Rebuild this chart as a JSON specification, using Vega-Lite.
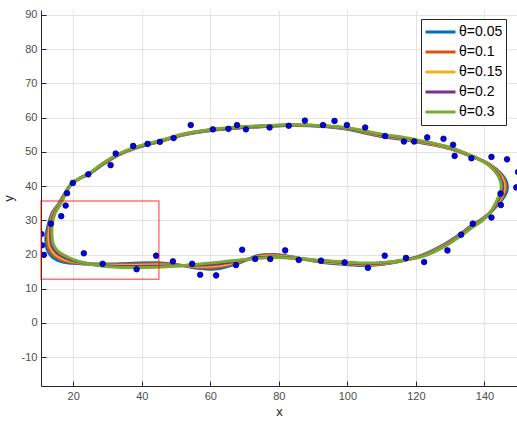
{
  "$schema": "https://vega.github.io/schema/vega-lite/v6.json",
  "width": 476,
  "height": 376,
  "autosize": {"type": "none"},
  "padding": {"left": 41, "top": 10, "right": 0, "bottom": 36},
  "background": "white",
  "config": {
    "view": {"stroke": null},
    "font": "Liberation Sans",
    "axis": {
      "domainColor": "#262626",
      "domainWidth": 1,
      "tickColor": "#262626",
      "tickSize": -5,
      "labelPadding": 9,
      "labelColor": "#4d4d4d",
      "labelFontSize": 11,
      "labelOverlap": false,
      "gridColor": "#e3e3e3",
      "gridWidth": 1,
      "titleColor": "#262626",
      "titleFontSize": 13,
      "titleFontWeight": "normal"
    }
  },
  "datasets": {
    "pts": [
      {"x":10.7,"y":26.0},{"x":10.9,"y":22.7},{"x":11.45,"y":19.9},{"x":13.5,"y":29.0},{"x":16.5,"y":31.2},{"x":17.8,"y":34.3},{"x":18.2,"y":37.9},{"x":19.9,"y":40.9},{"x":24.4,"y":43.4},{"x":30.9,"y":46.1},{"x":32.4,"y":49.5},{"x":37.5,"y":51.7},{"x":41.7,"y":52.3},{"x":45.3,"y":52.9},{"x":49.3,"y":54.0},{"x":54.3,"y":57.8},{"x":60.75,"y":56.55},{"x":65.3,"y":56.7},{"x":67.8,"y":57.8},{"x":70.4,"y":56.55},{"x":77.3,"y":57.1},{"x":82.9,"y":57.6},{"x":87.6,"y":59.1},{"x":92.9,"y":57.8},{"x":96.25,"y":59.0},{"x":99.85,"y":57.8},{"x":105.2,"y":57.1},{"x":111.0,"y":54.6},{"x":116.5,"y":53.0},{"x":119.5,"y":53.0},{"x":123.3,"y":54.2},{"x":128.05,"y":53.8},{"x":130.85,"y":52.05},{"x":131.3,"y":48.8},{"x":136.2,"y":48.1},{"x":142.05,"y":48.5},{"x":146.6,"y":47.8},{"x":149.8,"y":44.1},{"x":149.3,"y":39.6},{"x":144.7,"y":37.8},{"x":144.8,"y":34.45},{"x":142.05,"y":30.8},{"x":136.6,"y":29.0},{"x":133.2,"y":25.8},{"x":129.2,"y":21.2},{"x":122.4,"y":17.8},{"x":117.1,"y":19.0},{"x":110.9,"y":19.65},{"x":106.0,"y":16.1},{"x":99.2,"y":17.7},{"x":92.3,"y":18.2},{"x":85.8,"y":18.4},{"x":81.85,"y":21.2},{"x":77.5,"y":18.7},{"x":73.1,"y":18.7},{"x":69.3,"y":21.4},{"x":67.5,"y":16.9},{"x":61.7,"y":13.9},{"x":57.05,"y":14.1},{"x":54.7,"y":17.3},{"x":49.1,"y":18.0},{"x":44.2,"y":19.65},{"x":38.5,"y":15.7},{"x":28.6,"y":17.3},{"x":23.1,"y":20.35}
    ],
    "box": [{"x":10.6,"x2":45.0,"y":12.8,"y2":35.6}],
    "curves": [
      {"s":"θ=0.05","i":0,"x":12.0,"y":25.5},{"s":"θ=0.05","i":1,"x":12.8,"y":29.0},{"s":"θ=0.05","i":2,"x":14.0,"y":32.4},{"s":"θ=0.05","i":3,"x":15.6,"y":34.6},{"s":"θ=0.05","i":4,"x":17.5,"y":37.8},{"s":"θ=0.05","i":5,"x":19.5,"y":40.7},{"s":"θ=0.05","i":6,"x":21.9,"y":42.2},{"s":"θ=0.05","i":7,"x":24.6,"y":43.5},{"s":"θ=0.05","i":8,"x":29.3,"y":46.7},{"s":"θ=0.05","i":9,"x":33.6,"y":49.2},{"s":"θ=0.05","i":10,"x":38.1,"y":51.0},{"s":"θ=0.05","i":11,"x":45.4,"y":53.0},{"s":"θ=0.05","i":12,"x":53.2,"y":55.1},{"s":"θ=0.05","i":13,"x":60.9,"y":56.3},{"s":"θ=0.05","i":14,"x":68.0,"y":56.9},{"s":"θ=0.05","i":15,"x":75.0,"y":57.3},{"s":"θ=0.05","i":16,"x":83.6,"y":57.7},{"s":"θ=0.05","i":17,"x":93.3,"y":57.4},{"s":"θ=0.05","i":18,"x":100.1,"y":56.6},{"s":"θ=0.05","i":19,"x":105.5,"y":55.4},{"s":"θ=0.05","i":20,"x":110.8,"y":54.3},{"s":"θ=0.05","i":21,"x":115.5,"y":53.7},{"s":"θ=0.05","i":22,"x":120.6,"y":52.8},{"s":"θ=0.05","i":23,"x":126.0,"y":51.8},{"s":"θ=0.05","i":24,"x":130.3,"y":50.8},{"s":"θ=0.05","i":25,"x":134.8,"y":49.2},{"s":"θ=0.05","i":26,"x":138.5,"y":47.8},{"s":"θ=0.05","i":27,"x":141.5,"y":46.3},{"s":"θ=0.05","i":28,"x":144.6,"y":43.9},{"s":"θ=0.05","i":29,"x":146.4,"y":41.3},{"s":"θ=0.05","i":30,"x":146.6,"y":38.8},{"s":"θ=0.05","i":31,"x":145.3,"y":36.2},{"s":"θ=0.05","i":32,"x":142.5,"y":33.0},{"s":"θ=0.05","i":33,"x":139.5,"y":30.5},{"s":"θ=0.05","i":34,"x":136.0,"y":28.3},{"s":"θ=0.05","i":35,"x":132.8,"y":25.9},{"s":"θ=0.05","i":36,"x":128.0,"y":22.8},{"s":"θ=0.05","i":37,"x":122.3,"y":20.0},{"s":"θ=0.05","i":38,"x":116.7,"y":18.3},{"s":"θ=0.05","i":39,"x":110.8,"y":17.2},{"s":"θ=0.05","i":40,"x":106.0,"y":16.8},{"s":"θ=0.05","i":41,"x":99.2,"y":17.1},{"s":"θ=0.05","i":42,"x":92.3,"y":17.7},{"s":"θ=0.05","i":43,"x":85.6,"y":19.0},{"s":"θ=0.05","i":44,"x":79.0,"y":20.0},{"s":"θ=0.05","i":45,"x":74.0,"y":19.7},{"s":"θ=0.05","i":46,"x":68.6,"y":17.6},{"s":"θ=0.05","i":47,"x":62.0,"y":15.8},{"s":"θ=0.05","i":48,"x":57.0,"y":15.9},{"s":"θ=0.05","i":49,"x":51.1,"y":16.9},{"s":"θ=0.05","i":50,"x":44.3,"y":17.6},{"s":"θ=0.05","i":51,"x":36.5,"y":17.4},{"s":"θ=0.05","i":52,"x":28.8,"y":17.2},{"s":"θ=0.05","i":53,"x":22.0,"y":17.3},{"s":"θ=0.05","i":54,"x":17.0,"y":17.8},{"s":"θ=0.05","i":55,"x":14.2,"y":19.0},{"s":"θ=0.05","i":56,"x":12.4,"y":21.5},{"s":"θ=0.05","i":57,"x":12.0,"y":25.5},
      {"s":"θ=0.1","i":0,"x":12.5,"y":25.6},{"s":"θ=0.1","i":1,"x":13.1,"y":29.0},{"s":"θ=0.1","i":2,"x":14.2,"y":32.35},{"s":"θ=0.1","i":3,"x":15.7,"y":34.55},{"s":"θ=0.1","i":4,"x":17.6,"y":37.8},{"s":"θ=0.1","i":5,"x":19.55,"y":40.7},{"s":"θ=0.1","i":6,"x":21.9,"y":42.2},{"s":"θ=0.1","i":7,"x":24.6,"y":43.55},{"s":"θ=0.1","i":8,"x":29.3,"y":46.8},{"s":"θ=0.1","i":9,"x":33.6,"y":49.3},{"s":"θ=0.1","i":10,"x":38.1,"y":51.1},{"s":"θ=0.1","i":11,"x":45.4,"y":53.1},{"s":"θ=0.1","i":12,"x":53.2,"y":55.2},{"s":"θ=0.1","i":13,"x":60.9,"y":56.4},{"s":"θ=0.1","i":14,"x":68.0,"y":57.0},{"s":"θ=0.1","i":15,"x":75.0,"y":57.4},{"s":"θ=0.1","i":16,"x":83.6,"y":57.75},{"s":"θ=0.1","i":17,"x":93.3,"y":57.45},{"s":"θ=0.1","i":18,"x":100.1,"y":56.7},{"s":"θ=0.1","i":19,"x":105.5,"y":55.55},{"s":"θ=0.1","i":20,"x":110.8,"y":54.5},{"s":"θ=0.1","i":21,"x":115.5,"y":53.9},{"s":"θ=0.1","i":22,"x":120.6,"y":52.95},{"s":"θ=0.1","i":23,"x":126.0,"y":51.9},{"s":"θ=0.1","i":24,"x":130.3,"y":50.9},{"s":"θ=0.1","i":25,"x":134.8,"y":49.25},{"s":"θ=0.1","i":26,"x":138.4,"y":47.85},{"s":"θ=0.1","i":27,"x":141.3,"y":46.4},{"s":"θ=0.1","i":28,"x":144.3,"y":43.9},{"s":"θ=0.1","i":29,"x":146.0,"y":41.3},{"s":"θ=0.1","i":30,"x":146.15,"y":38.8},{"s":"θ=0.1","i":31,"x":144.9,"y":36.2},{"s":"θ=0.1","i":32,"x":142.3,"y":32.9},{"s":"θ=0.1","i":33,"x":139.5,"y":30.4},{"s":"θ=0.1","i":34,"x":136.15,"y":28.2},{"s":"θ=0.1","i":35,"x":132.9,"y":25.8},{"s":"θ=0.1","i":36,"x":128.1,"y":22.7},{"s":"θ=0.1","i":37,"x":122.35,"y":19.9},{"s":"θ=0.1","i":38,"x":116.7,"y":18.3},{"s":"θ=0.1","i":39,"x":110.8,"y":17.3},{"s":"θ=0.1","i":40,"x":106.0,"y":17.0},{"s":"θ=0.1","i":41,"x":99.2,"y":17.3},{"s":"θ=0.1","i":42,"x":92.3,"y":17.85},{"s":"θ=0.1","i":43,"x":85.6,"y":18.95},{"s":"θ=0.1","i":44,"x":79.0,"y":19.8},{"s":"θ=0.1","i":45,"x":74.0,"y":19.5},{"s":"θ=0.1","i":46,"x":68.6,"y":17.8},{"s":"θ=0.1","i":47,"x":62.0,"y":16.3},{"s":"θ=0.1","i":48,"x":57.0,"y":16.2},{"s":"θ=0.1","i":49,"x":51.1,"y":16.85},{"s":"θ=0.1","i":50,"x":44.3,"y":17.3},{"s":"θ=0.1","i":51,"x":36.5,"y":17.1},{"s":"θ=0.1","i":52,"x":28.8,"y":17.05},{"s":"θ=0.1","i":53,"x":22.0,"y":17.45},{"s":"θ=0.1","i":54,"x":17.4,"y":18.15},{"s":"θ=0.1","i":55,"x":14.55,"y":19.5},{"s":"θ=0.1","i":56,"x":12.85,"y":21.9},{"s":"θ=0.1","i":57,"x":12.5,"y":25.6},
      {"s":"θ=0.15","i":0,"x":12.9,"y":25.7},{"s":"θ=0.15","i":1,"x":13.4,"y":29.0},{"s":"θ=0.15","i":2,"x":14.4,"y":32.3},{"s":"θ=0.15","i":3,"x":15.85,"y":34.5},{"s":"θ=0.15","i":4,"x":17.65,"y":37.75},{"s":"θ=0.15","i":5,"x":19.6,"y":40.75},{"s":"θ=0.15","i":6,"x":21.95,"y":42.25},{"s":"θ=0.15","i":7,"x":24.6,"y":43.6},{"s":"θ=0.15","i":8,"x":29.25,"y":46.85},{"s":"θ=0.15","i":9,"x":33.55,"y":49.35},{"s":"θ=0.15","i":10,"x":38.05,"y":51.15},{"s":"θ=0.15","i":11,"x":45.35,"y":53.15},{"s":"θ=0.15","i":12,"x":53.15,"y":55.25},{"s":"θ=0.15","i":13,"x":60.85,"y":56.45},{"s":"θ=0.15","i":14,"x":68.0,"y":57.05},{"s":"θ=0.15","i":15,"x":75.0,"y":57.45},{"s":"θ=0.15","i":16,"x":83.6,"y":57.8},{"s":"θ=0.15","i":17,"x":93.3,"y":57.5},{"s":"θ=0.15","i":18,"x":100.1,"y":56.8},{"s":"θ=0.15","i":19,"x":105.5,"y":55.7},{"s":"θ=0.15","i":20,"x":110.8,"y":54.65},{"s":"θ=0.15","i":21,"x":115.5,"y":54.05},{"s":"θ=0.15","i":22,"x":120.6,"y":53.1},{"s":"θ=0.15","i":23,"x":126.0,"y":52.05},{"s":"θ=0.15","i":24,"x":130.3,"y":51.0},{"s":"θ=0.15","i":25,"x":134.8,"y":49.3},{"s":"θ=0.15","i":26,"x":138.25,"y":47.9},{"s":"θ=0.15","i":27,"x":141.05,"y":46.45},{"s":"θ=0.15","i":28,"x":143.95,"y":43.95},{"s":"θ=0.15","i":29,"x":145.55,"y":41.3},{"s":"θ=0.15","i":30,"x":145.7,"y":38.8},{"s":"θ=0.15","i":31,"x":144.55,"y":36.2},{"s":"θ=0.15","i":32,"x":142.15,"y":32.75},{"s":"θ=0.15","i":33,"x":139.5,"y":30.25},{"s":"θ=0.15","i":34,"x":136.3,"y":28.15},{"s":"θ=0.15","i":35,"x":133.0,"y":25.7},{"s":"θ=0.15","i":36,"x":128.15,"y":22.55},{"s":"θ=0.15","i":37,"x":122.4,"y":19.8},{"s":"θ=0.15","i":38,"x":116.7,"y":18.35},{"s":"θ=0.15","i":39,"x":110.8,"y":17.45},{"s":"θ=0.15","i":40,"x":106.0,"y":17.15},{"s":"θ=0.15","i":41,"x":99.2,"y":17.45},{"s":"θ=0.15","i":42,"x":92.3,"y":18.0},{"s":"θ=0.15","i":43,"x":85.6,"y":18.9},{"s":"θ=0.15","i":44,"x":79.0,"y":19.55},{"s":"θ=0.15","i":45,"x":74.0,"y":19.3},{"s":"θ=0.15","i":46,"x":68.6,"y":18.0},{"s":"θ=0.15","i":47,"x":62.0,"y":16.75},{"s":"θ=0.15","i":48,"x":57.0,"y":16.55},{"s":"θ=0.15","i":49,"x":51.1,"y":16.8},{"s":"θ=0.15","i":50,"x":44.3,"y":16.95},{"s":"θ=0.15","i":51,"x":36.5,"y":16.8},{"s":"θ=0.15","i":52,"x":28.8,"y":16.9},{"s":"θ=0.15","i":53,"x":22.0,"y":17.6},{"s":"θ=0.15","i":54,"x":17.75,"y":18.5},{"s":"θ=0.15","i":55,"x":14.9,"y":19.95},{"s":"θ=0.15","i":56,"x":13.3,"y":22.25},{"s":"θ=0.15","i":57,"x":12.9,"y":25.7},
      {"s":"θ=0.2","i":0,"x":13.4,"y":25.7},{"s":"θ=0.2","i":1,"x":13.6,"y":29.0},{"s":"θ=0.2","i":2,"x":14.6,"y":32.25},{"s":"θ=0.2","i":3,"x":16.0,"y":34.45},{"s":"θ=0.2","i":4,"x":17.7,"y":37.7},{"s":"θ=0.2","i":5,"x":19.65,"y":40.8},{"s":"θ=0.2","i":6,"x":22.0,"y":42.3},{"s":"θ=0.2","i":7,"x":24.6,"y":43.65},{"s":"θ=0.2","i":8,"x":29.2,"y":46.9},{"s":"θ=0.2","i":9,"x":33.5,"y":49.4},{"s":"θ=0.2","i":10,"x":38.0,"y":51.2},{"s":"θ=0.2","i":11,"x":45.3,"y":53.2},{"s":"θ=0.2","i":12,"x":53.1,"y":55.3},{"s":"θ=0.2","i":13,"x":60.8,"y":56.5},{"s":"θ=0.2","i":14,"x":68.0,"y":57.1},{"s":"θ=0.2","i":15,"x":75.0,"y":57.5},{"s":"θ=0.2","i":16,"x":83.6,"y":57.85},{"s":"θ=0.2","i":17,"x":93.3,"y":57.55},{"s":"θ=0.2","i":18,"x":100.1,"y":56.9},{"s":"θ=0.2","i":19,"x":105.5,"y":55.85},{"s":"θ=0.2","i":20,"x":110.8,"y":54.8},{"s":"θ=0.2","i":21,"x":115.5,"y":54.2},{"s":"θ=0.2","i":22,"x":120.6,"y":53.25},{"s":"θ=0.2","i":23,"x":126.0,"y":52.2},{"s":"θ=0.2","i":24,"x":130.3,"y":51.1},{"s":"θ=0.2","i":25,"x":134.8,"y":49.35},{"s":"θ=0.2","i":26,"x":138.1,"y":47.95},{"s":"θ=0.2","i":27,"x":140.8,"y":46.5},{"s":"θ=0.2","i":28,"x":143.6,"y":44.0},{"s":"θ=0.2","i":29,"x":145.1,"y":41.3},{"s":"θ=0.2","i":30,"x":145.25,"y":38.8},{"s":"θ=0.2","i":31,"x":144.2,"y":36.2},{"s":"θ=0.2","i":32,"x":142.0,"y":32.6},{"s":"θ=0.2","i":33,"x":139.5,"y":30.1},{"s":"θ=0.2","i":34,"x":136.45,"y":28.1},{"s":"θ=0.2","i":35,"x":133.1,"y":25.6},{"s":"θ=0.2","i":36,"x":128.2,"y":22.4},{"s":"θ=0.2","i":37,"x":122.45,"y":19.7},{"s":"θ=0.2","i":38,"x":116.7,"y":18.4},{"s":"θ=0.2","i":39,"x":110.8,"y":17.6},{"s":"θ=0.2","i":40,"x":106.0,"y":17.3},{"s":"θ=0.2","i":41,"x":99.2,"y":17.6},{"s":"θ=0.2","i":42,"x":92.3,"y":18.15},{"s":"θ=0.2","i":43,"x":85.6,"y":18.85},{"s":"θ=0.2","i":44,"x":79.0,"y":19.3},{"s":"θ=0.2","i":45,"x":74.0,"y":19.1},{"s":"θ=0.2","i":46,"x":68.6,"y":18.2},{"s":"θ=0.2","i":47,"x":62.0,"y":17.2},{"s":"θ=0.2","i":48,"x":57.0,"y":16.9},{"s":"θ=0.2","i":49,"x":51.1,"y":16.75},{"s":"θ=0.2","i":50,"x":44.3,"y":16.6},{"s":"θ=0.2","i":51,"x":36.5,"y":16.5},{"s":"θ=0.2","i":52,"x":28.8,"y":16.75},{"s":"θ=0.2","i":53,"x":22.0,"y":17.75},{"s":"θ=0.2","i":54,"x":18.1,"y":18.85},{"s":"θ=0.2","i":55,"x":15.25,"y":20.45},{"s":"θ=0.2","i":56,"x":13.75,"y":22.6},{"s":"θ=0.2","i":57,"x":13.4,"y":25.7},
      {"s":"θ=0.3","i":0,"x":13.8,"y":25.8},{"s":"θ=0.3","i":1,"x":13.9,"y":29.0},{"s":"θ=0.3","i":2,"x":14.8,"y":32.2},{"s":"θ=0.3","i":3,"x":16.1,"y":34.4},{"s":"θ=0.3","i":4,"x":17.8,"y":37.7},{"s":"θ=0.3","i":5,"x":19.7,"y":40.8},{"s":"θ=0.3","i":6,"x":22.0,"y":42.3},{"s":"θ=0.3","i":7,"x":24.6,"y":43.7},{"s":"θ=0.3","i":8,"x":29.2,"y":47.0},{"s":"θ=0.3","i":9,"x":33.5,"y":49.5},{"s":"θ=0.3","i":10,"x":38.0,"y":51.3},{"s":"θ=0.3","i":11,"x":45.3,"y":53.3},{"s":"θ=0.3","i":12,"x":53.1,"y":55.4},{"s":"θ=0.3","i":13,"x":60.8,"y":56.6},{"s":"θ=0.3","i":14,"x":68.0,"y":57.2},{"s":"θ=0.3","i":15,"x":75.0,"y":57.6},{"s":"θ=0.3","i":16,"x":83.6,"y":57.9},{"s":"θ=0.3","i":17,"x":93.3,"y":57.6},{"s":"θ=0.3","i":18,"x":100.1,"y":57.0},{"s":"θ=0.3","i":19,"x":105.5,"y":56.0},{"s":"θ=0.3","i":20,"x":110.8,"y":55.0},{"s":"θ=0.3","i":21,"x":115.5,"y":54.4},{"s":"θ=0.3","i":22,"x":120.6,"y":53.4},{"s":"θ=0.3","i":23,"x":126.0,"y":52.3},{"s":"θ=0.3","i":24,"x":130.3,"y":51.2},{"s":"θ=0.3","i":25,"x":134.8,"y":49.4},{"s":"θ=0.3","i":26,"x":138.0,"y":48.0},{"s":"θ=0.3","i":27,"x":140.6,"y":46.6},{"s":"θ=0.3","i":28,"x":143.3,"y":44.0},{"s":"θ=0.3","i":29,"x":144.7,"y":41.3},{"s":"θ=0.3","i":30,"x":144.8,"y":38.8},{"s":"θ=0.3","i":31,"x":143.8,"y":36.2},{"s":"θ=0.3","i":32,"x":141.8,"y":32.5},{"s":"θ=0.3","i":33,"x":139.5,"y":30.0},{"s":"θ=0.3","i":34,"x":136.6,"y":28.0},{"s":"θ=0.3","i":35,"x":133.2,"y":25.5},{"s":"θ=0.3","i":36,"x":128.3,"y":22.3},{"s":"θ=0.3","i":37,"x":122.5,"y":19.6},{"s":"θ=0.3","i":38,"x":116.7,"y":18.4},{"s":"θ=0.3","i":39,"x":110.8,"y":17.7},{"s":"θ=0.3","i":40,"x":106.0,"y":17.5},{"s":"θ=0.3","i":41,"x":99.2,"y":17.8},{"s":"θ=0.3","i":42,"x":92.3,"y":18.3},{"s":"θ=0.3","i":43,"x":85.6,"y":18.8},{"s":"θ=0.3","i":44,"x":79.0,"y":19.1},{"s":"θ=0.3","i":45,"x":74.0,"y":18.9},{"s":"θ=0.3","i":46,"x":68.6,"y":18.4},{"s":"θ=0.3","i":47,"x":62.0,"y":17.7},{"s":"θ=0.3","i":48,"x":57.0,"y":17.2},{"s":"θ=0.3","i":49,"x":51.1,"y":16.7},{"s":"θ=0.3","i":50,"x":44.3,"y":16.3},{"s":"θ=0.3","i":51,"x":36.5,"y":16.2},{"s":"θ=0.3","i":52,"x":28.8,"y":16.6},{"s":"θ=0.3","i":53,"x":22.0,"y":17.9},{"s":"θ=0.3","i":54,"x":18.5,"y":19.2},{"s":"θ=0.3","i":55,"x":15.6,"y":20.9},{"s":"θ=0.3","i":56,"x":14.2,"y":23.0},{"s":"θ=0.3","i":57,"x":13.8,"y":25.8}
    ]
  },
  "layer": [
    {
      "data": {"name": "curves"},
      "mark": {"type": "line", "strokeWidth": 3, "interpolate": "catmull-rom", "clip": true},
      "encoding": {
        "x": {"field": "x", "type": "quantitative", "scale": {"domain": [10.6, 149.5], "nice": false, "zero": false},
              "axis": {"values": [20,40,60,80,100,120,140], "tickCount": 20, "title": "x", "titlePadding": 4, "labelOverlap": false}},
        "y": {"field": "y", "type": "quantitative", "scale": {"domain": [-18.4, 91.4], "nice": false, "zero": false},
              "axis": {"values": [-10,0,10,20,30,40,50,60,70,80,90], "tickCount": 20, "title": "y", "titlePadding": 6, "labelOverlap": false, "labelExpr": "replace(datum.label, '−', '-')"}},
        "color": {"field": "s", "type": "nominal",
                  "scale": {"domain": ["θ=0.05","θ=0.1","θ=0.15","θ=0.2","θ=0.3"], "range": ["#0072BD","#D95319","#EDB120","#7E2F8E","#77AC30"]},
                  "legend": {"title": null, "orient": "none", "legendX": 380, "legendY": 9, "symbolType": "stroke", "symbolStrokeWidth": 3, "symbolSize": 900,
                             "clipHeight": 20, "labelFontSize": 14, "labelColor": "#000000", "labelOffset": 2, "padding": 3, "rowPadding": 0,
                             "strokeColor": "#262626", "fillColor": "white", "cornerRadius": 0}},
        "order": {"field": "i", "type": "quantitative"}
      }
    },
    {
      "data": {"name": "pts"},
      "mark": {"type": "point", "filled": true, "size": 32, "fill": "#0000ee", "stroke": "#00005a", "strokeWidth": 0.7, "opacity": 1, "clip": true},
      "encoding": {
        "x": {"field": "x", "type": "quantitative"},
        "y": {"field": "y", "type": "quantitative"}
      }
    },
    {
      "data": {"name": "box"},
      "mark": {"type": "rect", "fill": null, "fillOpacity": 0, "stroke": "#ff0000", "strokeOpacity": 0.55, "strokeWidth": 1.5, "clip": false},
      "encoding": {
        "x": {"field": "x", "type": "quantitative"},
        "x2": {"field": "x2"},
        "y": {"field": "y", "type": "quantitative"},
        "y2": {"field": "y2"}
      }
    }
  ]
}
